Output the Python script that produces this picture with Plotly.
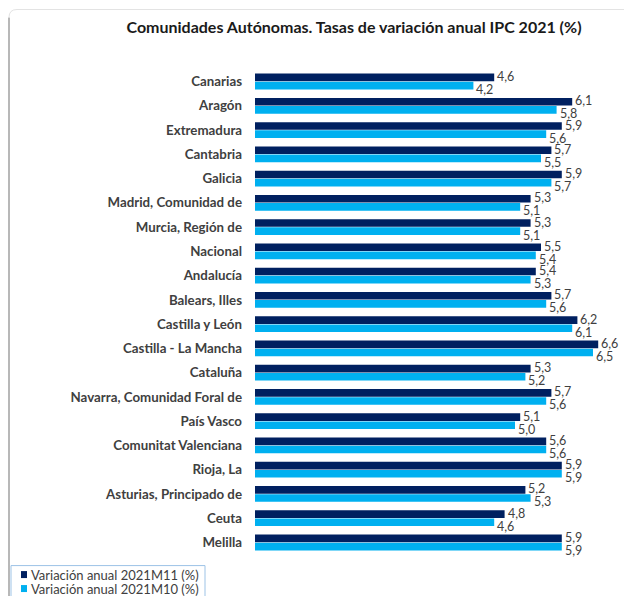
import plotly.graph_objects as go

categories = ["Canarias", "Aragón", "Extremadura", "Cantabria", "Galicia",
              "Madrid, Comunidad de", "Murcia, Región de", "Nacional", "Andalucía",
              "Balears, Illes", "Castilla y León", "Castilla - La Mancha", "Cataluña",
              "Navarra, Comunidad Foral de", "País Vasco", "Comunitat Valenciana",
              "Rioja, La", "Asturias, Principado de", "Ceuta", "Melilla"]
m11 = [4.6, 6.1, 5.9, 5.7, 5.9, 5.3, 5.3, 5.5, 5.4, 5.7, 6.2, 6.6, 5.3, 5.7, 5.1, 5.6, 5.9, 5.2, 4.8, 5.9]
m10 = [4.2, 5.8, 5.6, 5.5, 5.7, 5.1, 5.1, 5.4, 5.3, 5.6, 6.1, 6.5, 5.2, 5.6, 5.0, 5.6, 5.9, 5.3, 4.6, 5.9]
series_names = ["Variación anual 2021M11 (%)", "Variación anual 2021M10 (%)"]
title_text = "Comunidades Autónomas. Tasas de variación anual IPC 2021 (%)"

DARK = "#002060"
LIGHT = "#00B0F0"
GREY = "#404040"
FONT = "Lato"

W, H = 632, 596
OFF = 8  # page body margin offset
# target plot area in page pixels
L, R = 255, 619
T, B = 63.6, 557.4


def px(x):
    return (x - L) / (R - L)


def py(y):
    return (B - y) / (B - T)


fig = go.Figure()
fig.add_trace(go.Bar(y=categories, x=m11, orientation="h", name=series_names[0],
                     marker=dict(color=DARK, line=dict(width=0)), showlegend=False))
fig.add_trace(go.Bar(y=categories, x=m10, orientation="h", name=series_names[1],
                     marker=dict(color=LIGHT, line=dict(width=0)), showlegend=False))


def fmt(v):
    return f"{v:.1f}".replace(".", ",")


annotations = []
for c, v in zip(categories, m11):
    annotations.append(dict(x=v, y=c, xref="x", yref="y", text=fmt(v), showarrow=False,
                            xanchor="left", yanchor="middle", xshift=1, yshift=5,
                            font=dict(family=FONT, size=12.5, color=GREY)))
for c, v in zip(categories, m10):
    annotations.append(dict(x=v, y=c, xref="x", yref="y", text=fmt(v), showarrow=False,
                            xanchor="left", yanchor="middle", xshift=1, yshift=-8,
                            font=dict(family=FONT, size=12.5, color=GREY)))

FX, FY = 9, 9  # frame left/top edge in page pixels
shapes = [
    dict(type="line", xref="paper", yref="paper", x0=px(FX), x1=px(FX), y0=py(FY + 8), y1=py(610),
         line=dict(color="#B8B8B8", width=2)),
    dict(type="path", xref="paper", yref="paper",
         path=f"M {px(FX)},{py(FY + 8)} Q {px(FX)},{py(FY)} {px(FX + 8)},{py(FY)} L {px(650)},{py(FY)}",
         line=dict(color="#E3E3E3", width=1)),
    dict(type="rect", xref="paper", yref="paper", x0=px(11), x1=px(205), y0=py(566), y1=py(610),
         line=dict(color="#9DC3E6", width=1), fillcolor="white"),
]

legend_colors = [DARK, LIGHT]
legend_rows = [575, 589]
for name, col, yc in zip(series_names, legend_colors, legend_rows):
    shapes.append(dict(type="rect", xref="paper", yref="paper",
                       x0=px(21), x1=px(27), y0=py(yc - 3.5), y1=py(yc + 3.5),
                       line=dict(width=0), fillcolor=col))
    annotations.append(dict(x=px(29), y=py(yc), xref="paper", yref="paper", text=name,
                            showarrow=False, xanchor="left", yanchor="middle",
                            font=dict(family=FONT, size=13, color=GREY)))

fig.update_layout(
    width=W, height=H,
    margin=dict(l=L - OFF, r=W - (R - OFF), t=T - OFF, b=H - (B - OFF), pad=0, autoexpand=False),
    paper_bgcolor="white", plot_bgcolor="white",
    barmode="group", bargap=0.33, bargroupgap=0.06,
    title=dict(text="<b>" + title_text + "</b>", x=(354 - OFF) / W, xref="container",
               xanchor="center", y=1 - (27 - OFF) / H, yref="container", yanchor="middle",
               font=dict(family=FONT, size=16, color="#1A1A1A")),
    xaxis=dict(range=[0, 7], visible=False, showgrid=False, zeroline=False, fixedrange=True),
    yaxis=dict(autorange="reversed", showgrid=False, zeroline=False, showline=False,
               ticks="", ticklabelstandoff=12, automargin=False,
               tickfont=dict(family=FONT, size=13.3, color=GREY, weight="bold")),
    annotations=annotations,
    shapes=shapes,
    showlegend=False,
)

fig.write_html("out.html")
